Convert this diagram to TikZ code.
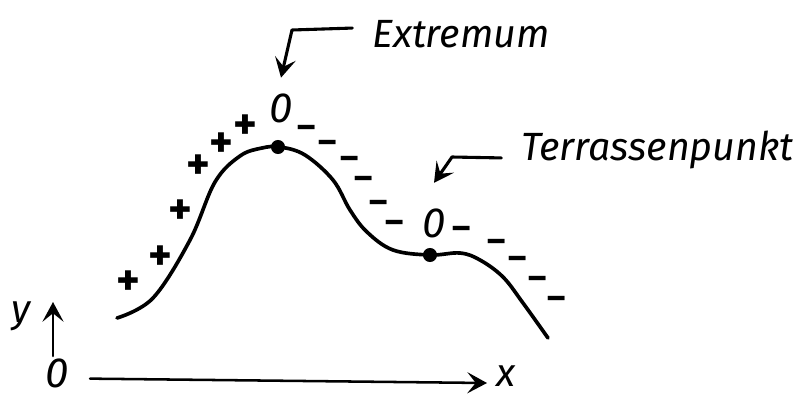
\documentclass[tikz,border=0pt]{standalone}
\usepackage{fontspec}
\setmainfont{Fira Sans}
\usetikzlibrary{arrows.meta}

\begin{document}
\begin{tikzpicture}[x=0.025cm,y=-0.025cm,
  >={Stealth[length=14pt,width=15pt,inset=6pt]},
  pen/.style={line width=2.2pt,line cap=round,line join=round},
  hand/.style={font=\fontsize{28}{30}\selectfont\itshape,inner sep=0pt},
  zero/.style={font=\fontsize{30}{30}\selectfont\itshape,inner sep=0pt},
  plus/.style={font=\fontsize{32}{32}\selectfont\bfseries,inner sep=0pt},
  minus/.style={font=\fontsize{25}{25}\selectfont\bfseries,inner sep=0pt},
  dot/.style={circle,fill,inner sep=0pt,minimum size=10pt}]
  \useasboundingbox (0,0) rectangle (793,397);

  % axes
  \node[zero] (origin) at (57,373) {0};
  \node[hand] (ylab) at (21,316) {y};
  \node[hand] (xlab) at (506,376) {x};
  \coordinate (ybot) at (53,356);
  \coordinate (ytop) at (53,302);
  \coordinate (xend) at (487,383);
  \draw[pen,line width=1.8pt,->] (ybot) -- (ytop);
  \draw[pen,line width=1.8pt,->] ([xshift=15pt,yshift=-4pt]origin.east) -- (xend);

  % the curve
  \draw[pen,line width=2.6pt] plot[smooth,tension=0.6] coordinates {
    (117,318) (153,298) (190,240) (215,182) (240,156) (262,148) (280,147)
    (305,155) (333,180) (350,210) (367,232) (393,250) (430,255) (460,253)
    (480,260) (503,277) (523,303) (548,338)};
  \node[dot] (top) at (278,147) {};
  \node[dot] (terr) at (430,255) {};

  % signs of y'
  \foreach \x/\y in {128/283,160/258,180/212,198/167,221/145,245/127}
    \node[plus] at (\x,\y) {+};
  \foreach \x/\y in {307/132,328/147,350/163,364/183,379/207,395/227,
                     462/233,497/246,518/263,538/283,557/303}
    \node[minus] at (\x,\y) {–};
  \node[zero] (zeroA) at (281,108) {0};
  \node[zero] (zeroB) at (434,223) {0};

  % labels
  \node[hand,anchor=base west] (extlbl) at (372,47) {Extremum};
  \node[hand,anchor=base west] (terlbl) at (521,160) {Terrassenpunkt};
  \coordinate (ecorner) at (292,30);
  \coordinate (tcorner) at (452,157);
  \draw[pen,->] ([xshift=-14pt,yshift=4pt]extlbl.west) -- (ecorner)
    -- ([yshift=11pt]zeroA.north);
  \draw[pen,->] ([xshift=-14pt,yshift=-6pt]terlbl.west) -- (tcorner)
    -- ([yshift=18pt]zeroB.north);
\end{tikzpicture}
\end{document}
